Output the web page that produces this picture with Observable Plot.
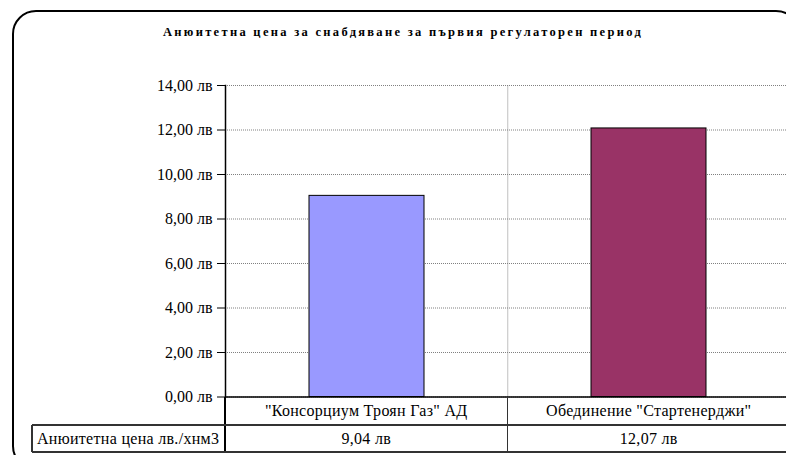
<!DOCTYPE html>
<html><head><meta charset="utf-8">
<script src="https://cdn.jsdelivr.net/npm/d3@7"></script>
<script src="https://cdn.jsdelivr.net/npm/@observablehq/plot@0.6"></script>
<style>
html,body{margin:0;padding:0;background:#fff;overflow:hidden}
#wrap{position:relative;width:786px;height:455px;overflow:hidden;font-family:'Liberation Serif','DejaVu Serif',serif;color:#000}
#border{position:absolute;left:12px;top:10px;width:788px;height:460px;border:2px solid #000;border-radius:24px;box-sizing:border-box}
#title{position:absolute;left:0;width:806px;top:25px;text-align:center;font-weight:bold;font-size:12.5px;letter-spacing:2.3px;white-space:nowrap}
#chart{position:absolute;left:0;top:0}
.ln{position:absolute;background:#333}
.txt{position:absolute;font-size:16px;white-space:nowrap;letter-spacing:0.3px;line-height:18px}
</style></head>
<body><div id="wrap"><div id="border"></div><div id="title"></div><div id="chart"></div></div>
<script>
const title = "Анюитетна цена за снабдяване за първия регулаторен период";
const categories = ['"Консорциум Троян Газ" АД', 'Обединение "Стартенерджи"'];
const values = [9.04, 12.07];
const colors = ["#9999FF", "#993366"];
const yTicks = [0, 2, 4, 6, 8, 10, 12, 14];
const seriesLabel = "Анюитетна цена лв./хнм3";
const fmt = v => v.toFixed(2).replace(".", ",") + " лв";

const W = 786, H = 455;
const mL = 225, mT = 85, mB = 58.5;
const xRange = [225, 790];
const padIn = 0.593, padOut = padIn / 2;
const xs = Plot.scale({x: {type: "band", domain: categories, range: xRange, paddingInner: padIn, paddingOuter: padOut}});
const step = xs.step;
const data = categories.map((c, i) => ({c, v: values[i], color: colors[i]}));

document.getElementById("title").textContent = title;

const chart = Plot.plot({
  width: W, height: H,
  marginLeft: mL, marginTop: mT, marginBottom: mB, marginRight: W - xRange[1],
  style: {fontFamily: "'Liberation Serif','DejaVu Serif',serif", fontSize: "16px", background: "transparent", overflow: "visible"},
  x: {domain: categories, range: xRange, paddingInner: padIn, paddingOuter: padOut, axis: null},
  y: {domain: [0, 14], axis: null},
  color: {type: "identity"},
  marks: [
    Plot.gridY(yTicks, {stroke: "#808080", strokeOpacity: 1, strokeDasharray: "1,1"}),
    Plot.ruleX([categories[1]], {dx: -step / 2, y1: 0, y2: 14, stroke: "#808080", strokeDasharray: "1,1"}),
    Plot.barY(data, {x: "c", y: "v", fill: "color", stroke: "#000", strokeWidth: 1}),
    Plot.axisY(yTicks, {tickFormat: fmt, tickSize: 8, tickPadding: 5, fontSize: 16, label: null, style: "letter-spacing:0.6px"}),
    Plot.frame({anchor: "left", stroke: "#000", strokeWidth: 1.5}),
    Plot.ruleY([0], {stroke: "#000", strokeWidth: 1.5})
  ]
});
document.getElementById("chart").appendChild(chart);

// data table below the plot, aligned with the x scale
const wrap = document.getElementById("wrap");
const y0 = H - mB, r1 = 425, r2 = 452, tLeft = 32;
function line(x, y, w, h, c) {
  const d = document.createElement("div");
  d.className = "ln";
  Object.assign(d.style, {left: x + "px", top: y + "px", width: w + "px", height: h + "px"});
  if (c) d.style.background = c;
  wrap.appendChild(d);
}
function text(s, cx, cy, align) {
  const d = document.createElement("div");
  d.className = "txt";
  d.textContent = s;
  wrap.appendChild(d);
  const w = d.getBoundingClientRect().width;
  d.style.left = (align === "left" ? cx : cx - w / 2) + "px";
  d.style.top = (cy - 9) + "px";
}
line(xRange[0] - 0.75, y0, 1.5, r2 - y0, "#000");
line(xRange[0] + step - 0.75, y0, 1.5, r2 - y0);
line(tLeft, r1 - 0.75, xRange[1] - tLeft, 1.5);
line(tLeft, r2 - 0.75, xRange[1] - tLeft, 1.5);
line(tLeft - 0.75, r1, 1.5, r2 - r1);
categories.forEach((c, i) => {
  const cx = xRange[0] + (i + 0.5) * step;
  text(c, cx, (y0 + r1) / 2);
  text(fmt(values[i]), cx, (r1 + r2) / 2);
});
text(seriesLabel, 37, (r1 + r2) / 2, "left");
</script></body></html>
